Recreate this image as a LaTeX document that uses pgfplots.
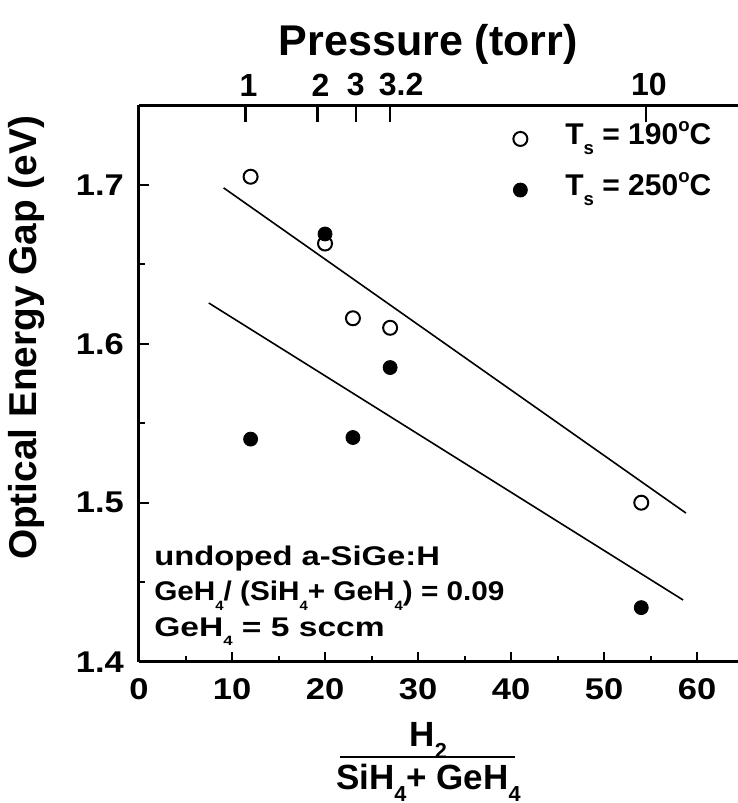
\documentclass[border=0pt]{standalone}
\usepackage{fontspec}
\setmainfont{Liberation Sans}
\newfontfamily\widefont{Liberation Sans}[FakeStretch=1.15]
\newfontfamily\infofont{Liberation Sans}[FakeStretch=1.12]
\usepackage{graphicx}
\usepackage{pgfplots}
\pgfplotsset{compat=1.18}
\newcommand{\dn}[1]{\raisebox{-0.33em}{\scalebox{0.62}{#1}}}
\newcommand{\sdn}[1]{\raisebox{-0.36em}{\scalebox{0.5}{#1}}}
\newcommand{\up}[1]{\raisebox{0.45em}{\scalebox{0.62}{#1}}}

\begin{document}
\begin{tikzpicture}
\path[use as bounding box] (-69.5pt,-70.65pt) rectangle (299.5pt,330.85pt);
% pressure axis on top
\begin{axis}[
  at={(0pt,0pt)}, anchor=south west,
  width=299.5pt, height=278.25pt, scale only axis,
  xmin=0, xmax=64.4, ymin=1.4, ymax=1.75,
  axis x line*=top, axis y line=none,
  axis line style={line width=1.5pt,-},
  xtick={11.45,19.2,23.3,27,54.5},
  xticklabels={1,2,{3\hspace*{3pt}},{\hspace*{8pt}3.2},10},
  tick align=inside, major tick length=8.5pt,
  tick style={line width=1.2pt,black},
  xticklabel style={font=\fontsize{16}{19}\selectfont\bfseries, yshift=1pt, xshift=1.5pt},
]
\addplot[draw=none] coordinates {(0,1.4)};
\end{axis}
\begin{axis}[
  at={(0pt,0pt)}, anchor=south west,
  width=299.5pt, height=278.25pt, scale only axis,
  xmin=0, xmax=64.4, ymin=1.4, ymax=1.75,
  axis x line*=bottom, axis y line*=left,
  axis line style={line width=1.5pt,-},
  xtick={0,10,...,60}, minor xtick={5,15,...,55},
  ytick={1.4,1.5,1.6,1.7}, minor ytick={1.45,1.55,1.65},
  tick align=inside, major tick length=5pt, minor tick length=3pt,
  tick style={line width=1pt,black},
  yticklabel style={/pgf/number format/fixed,/pgf/number format/precision=1,
    /pgf/number format/fixed zerofill, xshift=-4pt},
  xticklabel style={yshift=-5pt},
  ticklabel style={font=\fontsize{15}{18}\selectfont\widefont\bfseries},
  /pgf/number format/assume math mode=true,
  clip=false,
  legend cell align=left,
  legend image code/.code={\draw[#1] plot coordinates {(0pt,0pt)};
    \path[draw=none,fill=none] (-4pt,-6pt) rectangle (4pt,4pt);},
  legend style={at={(axis cs:40.1,1.7345)}, anchor=north west, draw=none, fill=none,
    font=\fontsize{15}{18}\selectfont\bfseries, row sep=15.2pt,
    inner sep=0pt, nodes={inner sep=0pt},
    /tikz/every even column/.append style={text height=0.72em, text depth=0pt},
    /tikz/every odd column/.append style={column sep=18.5pt}},
]
\addplot[only marks, mark=o, mark size=3.5pt, line width=1pt, black]
  coordinates {(12,1.705) (20,1.663) (23,1.616) (27,1.610) (54,1.500)};
\addlegendentry{T\dn{s} = 190\up{o}C}
\addplot[only marks, mark=*, mark size=3.5pt, black]
  coordinates {(20,1.669) (27,1.585) (12,1.540) (23,1.541) (54,1.434)};
\addlegendentry{T\dn{s} = 250\up{o}C}
% linear fits
\addplot[black, line width=0.8pt, forget plot] coordinates {(9.1,1.698) (58.8,1.4935)};
\addplot[black, line width=0.8pt, forget plot] coordinates {(7.5,1.6256) (58.5,1.4388)};
% notes
\node[anchor=base west, inner sep=0pt, font=\fontsize{13.5}{16}\selectfont\infofont\bfseries] at (axis cs:1.6,1.4605) {\scalebox{1.083}[1]{undoped a-SiGe:H}};
\node[anchor=base west, inner sep=0pt, font=\fontsize{13.5}{16}\selectfont\infofont\bfseries] at (axis cs:1.6,1.4385) {\scalebox{0.983}[1]{GeH\sdn{4}/ (SiH\sdn{4}+ GeH\sdn{4}) = 0.09}};
\node[anchor=base west, inner sep=0pt, font=\fontsize{13.5}{16}\selectfont\infofont\bfseries] at (axis cs:1.6,1.4160) {\scalebox{1.11}[1]{GeH\sdn{4} = 5 sccm}};
% axis titles
\node[rotate=90, anchor=center, font=\fontsize{19.4}{22}\selectfont\bfseries] at (axis description cs:-0.187,0.582) {Optical Energy Gap (eV)};
\node[anchor=base, font=\fontsize{21.5}{24}\selectfont\bfseries] at (axis description cs:0.483,1.0898) {Pressure (torr)};
\node[anchor=base, font=\fontsize{17.5}{20}\selectfont\bfseries] at (axis description cs:0.483,-0.153) {H\dn{2}};
\draw[line width=1pt] (axis description cs:0.335,-0.172) -- (axis description cs:0.628,-0.172);
\node[anchor=base, font=\fontsize{17.5}{20}\selectfont\bfseries] at (axis description cs:0.483,-0.2305) {SiH\dn{4}+ GeH\dn{4}};
\end{axis}
\end{tikzpicture}
\end{document}
